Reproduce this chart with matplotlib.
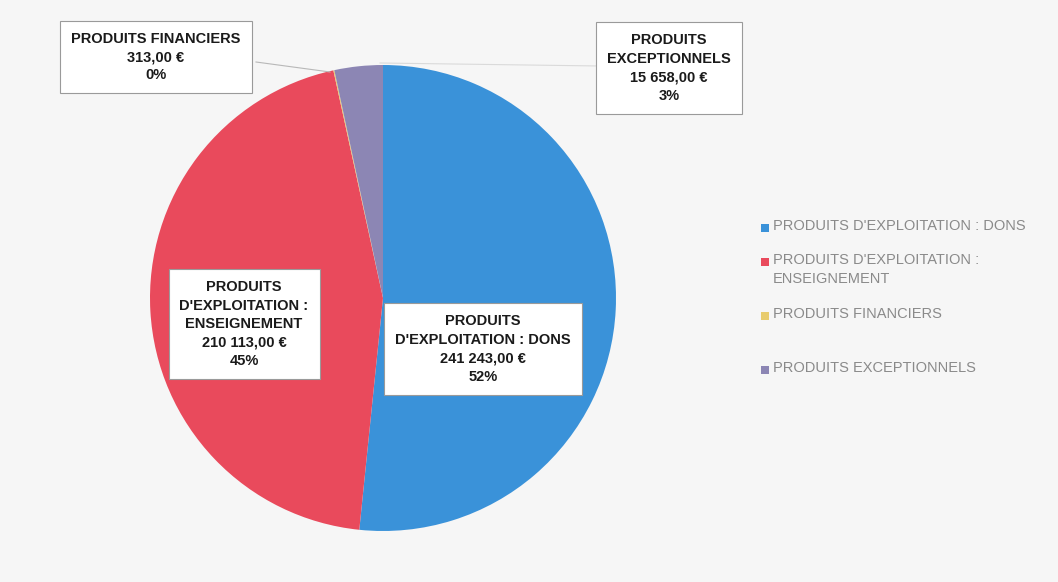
import matplotlib
matplotlib.use("Agg")
import matplotlib.pyplot as plt
from matplotlib.patches import Rectangle

labels = ["PRODUITS D'EXPLOITATION : DONS",
          "PRODUITS D'EXPLOITATION : ENSEIGNEMENT",
          "PRODUITS FINANCIERS",
          "PRODUITS EXCEPTIONNELS"]
values = [241243, 210113, 313, 15658]
amounts = ["241 243,00 €", "210 113,00 €", "313,00 €", "15 658,00 €"]
pcts = ["52%", "45%", "0%", "3%"]
colors = ["#3a92d9", "#e94a5c", "#e8cc6e", "#8c86b4"]

plt.rcParams["font.family"] = ["Liberation Sans Narrow", "Liberation Sans", "DejaVu Sans"]

W, H = 1058, 582
fig = plt.figure(figsize=(W / 100, H / 100), dpi=100)
fig.patch.set_facecolor("#f6f6f6")

def fx(px):
    return px / W

def fy(py):
    return 1 - py / H

# pie centred at about (383, 298) px, radius ~233 px
ax = fig.add_axes([fx(383 - 233), fy(298 + 233), 466 / W, 466 / H])
ax.pie(values, colors=colors, startangle=90, counterclock=False,
       wedgeprops=dict(linewidth=0))
ax.set_xlim(-1, 1)
ax.set_ylim(-1, 1)
ax.set_aspect("equal")
ax.axis("off")

# data labels (box centre in px)
box_pos = [(483, 349), (244, 324), (156, 57), (669, 68)]
box_text = [
    "PRODUITS\nD'EXPLOITATION : DONS",
    "PRODUITS\nD'EXPLOITATION :\nENSEIGNEMENT",
    "PRODUITS FINANCIERS",
    "PRODUITS\nEXCEPTIONNELS",
]

# leader lines for the small slices
fig.add_artist(plt.Line2D([fx(256), fx(330)], [fy(62), fy(72)],
                          color="#b8b8b8", lw=0.8))
fig.add_artist(plt.Line2D([fx(600), fx(380)], [fy(66), fy(63)],
                          color="#dadada", lw=0.8))

for (x, y), t, a, p in zip(box_pos, box_text, amounts, pcts):
    fig.text(fx(x), fy(y), f"{t}\n{a}\n{p}", ha="center", va="center",
             fontsize=10.5, fontweight="bold", color="#1a1a1a",
             linespacing=1.4,
             bbox=dict(boxstyle="square,pad=0.75", fc="white",
                       ec="#9a9a9a", lw=0.8))

# legend drawn by hand to follow the Excel layout
leg_y = [228, 262, 316, 370]
leg_text = ["PRODUITS D'EXPLOITATION : DONS",
            "PRODUITS D'EXPLOITATION :\nENSEIGNEMENT",
            "PRODUITS FINANCIERS",
            "PRODUITS EXCEPTIONNELS"]
for y, t, c in zip(leg_y, leg_text, colors):
    fig.add_artist(Rectangle((fx(761), fy(y + 4)), 8 / W, 8 / H,
                             transform=fig.transFigure, fc=c, ec="none"))
    fig.text(fx(773), fy(y - 9), t, ha="left", va="top",
             fontsize=10.5, color="#8a8a8a", linespacing=1.45)

fig.savefig("out.png", dpi=100, facecolor=fig.get_facecolor())
